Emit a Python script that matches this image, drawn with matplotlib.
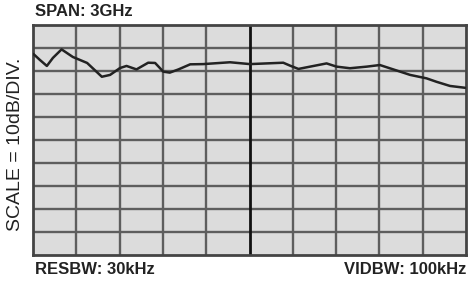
import matplotlib
matplotlib.use("Agg")
import matplotlib.pyplot as plt

# trace in divisions (x: 0..10, y: 0..10 from bottom)
trace_x = [0.01, 0.16, 0.32, 0.46, 0.66, 0.92, 1.25, 1.59, 1.78, 2.01, 2.16, 2.39,
           2.66, 2.82, 3.01, 3.16, 3.36, 3.63, 3.93, 4.55, 5.01, 5.78, 5.94, 6.13,
           6.40, 6.78, 7.01, 7.32, 7.71, 8.01, 8.32, 8.71, 9.09, 9.32, 9.63, 9.98]
trace_y = [8.74, 8.48, 8.22, 8.57, 8.94, 8.61, 8.35, 7.75, 7.83, 8.13, 8.22, 8.07,
           8.36, 8.35, 7.97, 7.93, 8.07, 8.29, 8.30, 8.38, 8.30, 8.36, 8.23, 8.09,
           8.19, 8.33, 8.19, 8.12, 8.19, 8.26, 8.07, 7.83, 7.68, 7.53, 7.35, 7.27]
x_div = list(range(11))
y_div = list(range(11))

fig = plt.figure(figsize=(4.75, 2.82), dpi=100)
ax = fig.add_axes([33/475, 27/282, 433/475, 230/282])
ax.set_facecolor("#dcdcdc")
ax.set_xlim(0, 10)
ax.set_ylim(0, 10)
for xv in x_div[1:-1]:
    if xv == 5:
        ax.axvline(xv, color="#111111", lw=2.0, zorder=2)
    else:
        ax.axvline(xv, color="#5e5e5e", lw=1.7, zorder=1)
for yv in y_div[1:-1]:
    ax.axhline(yv, color="#5e5e5e", lw=1.7, zorder=1)
ax.plot(trace_x, trace_y, color="#222222", lw=1.8, zorder=3,
        solid_joinstyle="round", solid_capstyle="round")
for s in ax.spines.values():
    s.set_color("#444444")
    s.set_linewidth(2.0)
ax.set_xticks([])
ax.set_yticks([])

fam = ["Liberation Sans", "DejaVu Sans"]
fig.text(35/475, 1 - 12/282, "SPAN: 3GHz", fontsize=12, fontweight="bold",
         family=fam, va="center", ha="left", color="#222222")
fig.text(35/475, 1 - 269/282, "RESBW: 30kHz", fontsize=12, fontweight="bold",
         family=fam, va="center", ha="left", color="#222222")
fig.text(466/475, 1 - 269/282, "VIDBW: 100kHz", fontsize=12, fontweight="bold",
         family=fam, va="center", ha="right", color="#222222")
fig.text(16/475, 1 - 144/282, "SCALE = 10dB/DIV.", fontsize=14, rotation=90,
         family=fam, va="center", ha="center", color="#222222")

fig.savefig("out.png", dpi=100)
